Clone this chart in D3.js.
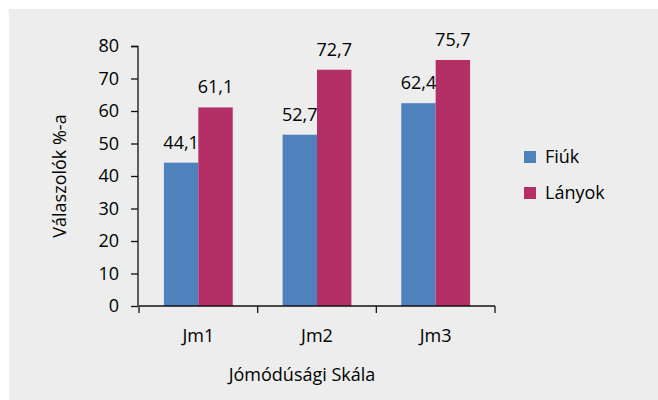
<!DOCTYPE html>
<html>
<head>
<meta charset="utf-8">
<script src="https://cdn.jsdelivr.net/npm/d3@7"></script>
<style>
  body { margin: 0; background: #fff; }
  svg { display: block; font-family: "Open Sans", sans-serif; }
</style>
</head>
<body>
<svg id="chart" width="658" height="400"></svg>
<script>
var categories = ["Jm1", "Jm2", "Jm3"];
var seriesNames = ["Fiúk", "Lányok"];
var fiuk = [44.1, 52.7, 62.4];
var lanyok = [61.1, 72.7, 75.7];
var yTicks = [0, 10, 20, 30, 40, 50, 60, 70, 80];
var colors = ["#4f81bd", "#b52f67"];

var svg = d3.select("#chart");

svg.append("rect")
    .attr("x", 9).attr("y", 9)
    .attr("width", 649).attr("height", 400)
    .attr("fill", "#ecedec");

var margin = { left: 138, top: 46, right: 164, bottom: 94 };
var width = 658 - margin.left - margin.right;
var height = 400 - margin.top - margin.bottom;

var g = svg.append("g")
    .attr("transform", "translate(" + margin.left + "," + margin.top + ")");

var x = d3.scaleBand()
    .domain(categories)
    .range([1, 357])
    .paddingInner(0.42)
    .paddingOuter(0.21);

var xSub = d3.scaleBand()
    .domain(seriesNames)
    .range([0, x.bandwidth()]);

var y = d3.scaleLinear()
    .domain([0, 80])
    .range([height, 0]);

var rows = categories.map(function (c, i) {
    return { cat: c, values: [fiuk[i], lanyok[i]] };
});

// bars
var groups = g.selectAll("g.cat")
    .data(rows)
    .enter().append("g")
    .attr("class", "cat")
    .attr("transform", function (d) { return "translate(" + x(d.cat) + ",0)"; });

groups.selectAll("rect")
    .data(function (d) {
        return d.values.map(function (v, j) { return { name: seriesNames[j], v: v, j: j }; });
    })
    .enter().append("rect")
    .attr("x", function (d) { return xSub(d.name); })
    .attr("y", function (d) { return y(d.v); })
    .attr("width", xSub.bandwidth())
    .attr("height", function (d) { return height - y(d.v); })
    .attr("fill", function (d) { return colors[d.j]; });

groups.selectAll("text")
    .data(function (d) {
        return d.values.map(function (v, j) { return { name: seriesNames[j], v: v }; });
    })
    .enter().append("text")
    .attr("x", function (d) { return xSub(d.name) + xSub.bandwidth() / 2; })
    .attr("y", function (d) { return y(d.v) - 14; })
    .attr("text-anchor", "middle")
    .attr("font-size", 18)
    .attr("fill", "#000")
    .text(function (d) { return String(d.v).replace(".", ","); });

// y axis
var yAxis = g.append("g")
    .call(d3.axisLeft(y).tickValues(yTicks).tickSize(7).tickPadding(12));
yAxis.select(".domain").attr("stroke", "#111").attr("stroke-width", 1.3).attr("d", "M-7,0.5H0V" + height);
yAxis.selectAll(".tick line").attr("stroke", "#111").attr("stroke-width", 1.3);
yAxis.selectAll(".tick text").attr("font-size", 18).attr("fill", "#000").attr("font-family", "Open Sans");

// x axis
var xAxis = g.append("g")
    .attr("transform", "translate(0," + height + ")")
    .call(d3.axisBottom(x).tickSize(0).tickPadding(23));
xAxis.select(".domain").attr("stroke", "#111").attr("stroke-width", 1.3)
    .attr("d", "M1,0H357");
xAxis.selectAll(".tick text").attr("font-size", 18).attr("fill", "#000").attr("font-family", "Open Sans");

// category separators on x axis
var bounds = [1].concat(categories.map(function (c) { return x(c) + x.bandwidth() + x.step() * x.paddingInner() / 2; }));
bounds[bounds.length - 1] = 357;
g.append("g").selectAll("line")
    .data(bounds)
    .enter().append("line")
    .attr("x1", function (d) { return d; }).attr("x2", function (d) { return d; })
    .attr("y1", height).attr("y2", height + 7)
    .attr("stroke", "#111").attr("stroke-width", 1.3);

// axis titles
svg.append("text")
    .attr("transform", "translate(66," + (margin.top + height / 2) + ") rotate(-90)")
    .attr("text-anchor", "middle")
    .attr("font-size", 18)
    .attr("fill", "#000")
    .text("Válaszolók %-a");

svg.append("text")
    .attr("x", 302)
    .attr("y", 381)
    .attr("text-anchor", "middle")
    .attr("font-size", 18)
    .attr("fill", "#000")
    .text("Jómódúsági Skála");

// legend
var legend = svg.append("g").attr("transform", "translate(524,151)");
var items = legend.selectAll("g")
    .data(seriesNames)
    .enter().append("g")
    .attr("transform", function (d, i) { return "translate(0," + i * 36 + ")"; });
items.append("rect")
    .attr("width", 12).attr("height", 12)
    .attr("fill", function (d, i) { return colors[i]; });
items.append("text")
    .attr("x", 21).attr("y", 12)
    .attr("font-size", 18)
    .attr("fill", "#000")
    .text(function (d) { return d; });
</script>
</body>
</html>
